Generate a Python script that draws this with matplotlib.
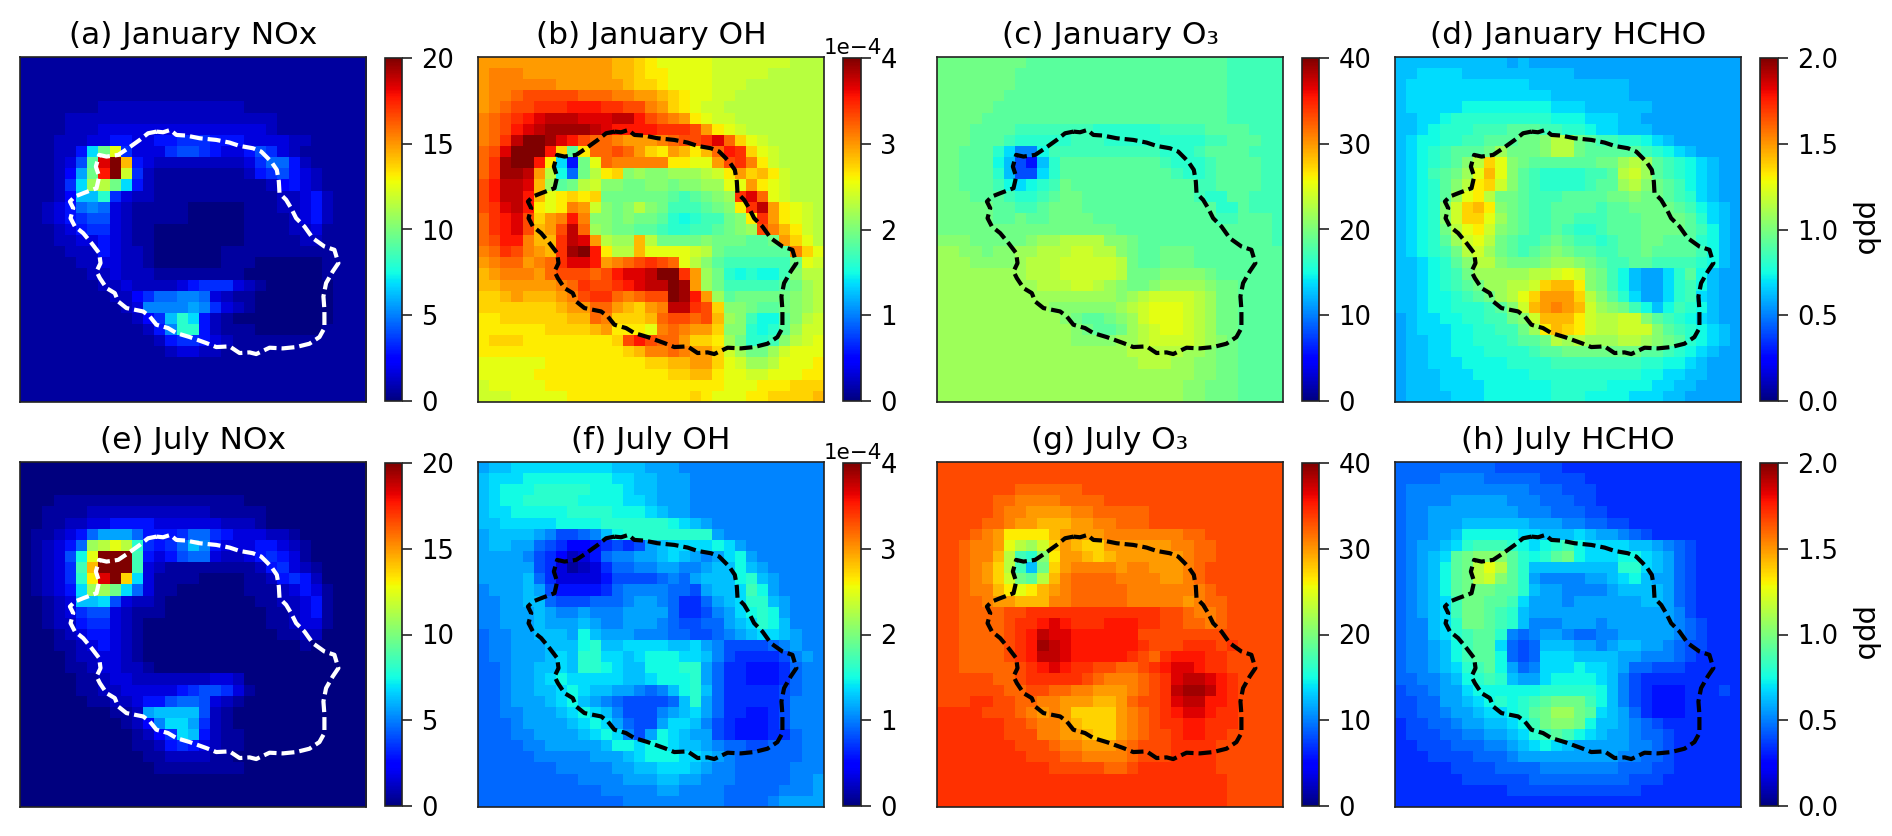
import matplotlib
matplotlib.use("Agg")
import matplotlib.pyplot as plt
from matplotlib.ticker import ScalarFormatter
import numpy as np

# Cell values, one character per cell, as a level 0..35
# of the colour bar (0-9 then a-z). Spaces only group the columns.
jan_nox = """
11111 11111 11111 11111 11111 11111 1
11111 11111 11111 11111 11111 11111 1
11111 11111 11111 11111 11111 11111 1
11111 11111 11111 11111 11111 11111 1
11111 11222 22222 22222 11111 11111 1
11112 22222 22222 22222 22211 11111 1
11112 22333 33333 33333 33211 11111 1
11122 23355 33556 66555 33332 21111 1
11122 5chm6 33367 76533 57632 11111 1
11123 7gwzp 53222 22222 36885 21111 1
11124 ahvzl 62111 11111 25675 32111 1
11126 cjkhc 52111 11111 11245 32111 1
11124 bbe63 22111 11111 11122 35211 1
11235 89832 11111 00000 11122 35211 1
11235 67732 11111 00000 11112 35211 1
11123 56632 11000 00000 11112 23111 1
11122 33532 11000 00000 11111 22111 1
11112 22532 21000 00011 11111 11111 1
11111 22332 21000 00011 10000 00111 1
11111 12232 22111 11111 00000 00111 1
11111 11223 22223 56663 21000 00011 1
11111 11122 46889 98321 10000 00011 1
11111 11112 39999 a9632 10000 00011 1
11111 11111 246be c5210 00000 00011 1
11111 11111 1259e e5211 10000 00111 1
11111 11111 11256 65321 11111 11111 1
11111 11111 11123 32211 11111 11111 1
11111 11111 11111 11111 11111 11111 1
11111 11111 11111 11111 11111 11111 1
11111 11111 11111 11111 11111 11111 1
11111 11111 11111 11111 11111 11111 1
"""

jan_oh = """
qqqqq qqqqq qqppo nmmmm mllll lllkk k
qrrrq qqqqq qqppo nnmmm mllll lkkkk k
qrrrr rrqqq qqqpo onmmm mlllk kkkkk k
qrrst tttts ssrrq qponm mllkk kkkkk k
qrstt uuuvv vuutt rqonm llkkk kkkkk k
rstuv wxxxw wwxxv tsrqn mllkk kkkkk k
rstvw xyyyy xwvvv vuuut qnmlk kkkkk k
rsuxz zywvt ssrqq qrstt uwsom lkkkk k
stwzz zvogn sstsq onqpn psvuo mlkkk k
suyzz vnc5h msrrr rrnnm mqtur nlkkk k
suyyx qkd8h knoij iijjj klnqo pnlkk k
tvxxw pjghk liihh iihii jjmmq nmlkk k
tvxxv pmnon ohhhh hhgfg hijuw smlkk k
tuwxv nmnrq lihik ihfff ghinu xqnml k
suvwt oqrvr iihih hgede ffhin uqnml k
suvwt pqtxs jihhg gfeef fghij trpnl k
stvvr ppuxw qkjjp khhhh ihhhg ghqom k
rsutr qpuyz vnkkp mmmml khggg gggro m
qrssq rsuww vqrst utsmk igfff fffhm l
pqrrr qsttt stvww xzzuq jhede ddfik k
ppqqq qqrsu ttuvw xxzyq jhfff ffghj k
oopqp ppqrt uusrs ttzyv qjghh hhhij k
ooooo oopqq ssqpo qrxxu toiih gghij k
nnooo ooopp srooo pstts tpjif ddgik l
nnnnn noooo pqnnn mrsrq qoiie degjl l
nooon nnnnn nnotv tssqo onjhe efikl m
nnnnn nnnnn nnnop rrsrq qoljh hjlmm m
mmmmm mnnnn nnnnn ooppq qomlj jkmmm n
mmmmm nnnnn nnnnn nnoop pnmml lmmmn n
lmmmm mnnnn nnnnn nnnnn nnmmm nnnoo o
lllmm mmmnn nnnnn nnnno nmmmn noooo p
"""

jan_o3 = """
hhhhh hhhgg ggggg ggggg ggggg gffff f
hhhhh hhggg ggggg ggggg ggggg gffff f
hhhhh hhggg ggggg ggggg ggggg gffff f
hhhhh hgggg ggggg ggggg ggggg gffff f
hhhhh ggggg ggggg ggggg ggggg gffff f
hhhhg ggggg ggggg ggggg ggggg gffff f
hhhgg ggfff ffffe eeeee ffffg gggff f
hhhgg gfeee eefff eeeee eeeef fgggf f
hhggg ec99d fffff fffff eeefg gggff f
hhggg db75b egggg ggggg feeef ggggf f
hhggg eb77c egggg ggggg gfeef ggggf f
hhggg fdcde fhggg ggggg gggff ggggf f
hhhgg gfeef ghhgg ggggg gggfe eggff f
hhhhh ggffg hhhgg ggggg ggggg eegff f
hhhhh gghgg hhhhg ggggg ggggg ffggg f
hhhhh hhhhh hhhhh hgggg ggggg ggggg f
iiihh hhhij jkkkk iihgg ggggg ggggg f
jjiih iijjk kkllk kihgg hhhgg ggggg g
jjjii iijkk kllll lkhgg hhhgg ggggg g
jjjjj jjjkk kllll lkhhh iiiih ggggg g
jjjjj jjjjk kkllk jihhi jjjji hhggg g
jjjjj jjjjj jjjjj jijkl lllkj hhggg g
jjjjj jjjjj iiiii ijklm mmlkj hhggg g
jjjjj jjjjj jihgg hijlm mmlkj hhggg g
jjjjj jjjjj jjihg ghjkl mmlkj hhggg g
jjjjj jjjjj jjiii ijjkl lllkj ihggg g
jjjjj jjjjj jjjjj jjkkk kkjji hhggg g
jjjjj jjjjj jjjjj jjjkk kjjii hhggg g
jjjjj jjjjj jjjjj jjjjj jjjii hhggg g
jjjjj jjjjj jjjjj jjjjj jjiih hhggg g
jjjjj jjjjj jjjjj jjjjj jjiih hhggg g
"""

jan_hcho = """
bbbbb bbbbb abaaa aaaaa aaaaa aaaaa a
bbccc cbbbb bbbbb baaaa aaaaa aaaaa a
bcccc ccccc ccbbb bbbbb baaaa aaaaa a
bcccc ccccc ccccb bbbbb baaaa aaaaa a
bcccc cdddd ddddc ccbbb bbbaa aaaaa a
bbccd eeeee eeeed ddccc bbaaa aaaaa a
bbcde eefff gggff eedcc bbbaa aaaaa a
bcdde effgg ghhik khgff eedcb aaaaa a
bcdef ggghj hhhik khggg ggfed cbaaa a
bcdef gikom ihggg ggghh jkjgf edcba a
bcdfg hjmpm igfee eeffg kljgf edcba a
bcdeg iknol igfee eefgg jkihg fdcba a
bcdeg jmnkh hgfff ggggh hihhg fecba a
bcdei lopni hgffg gggfg ghhhh gfdcb a
bcdei loomj hgffg gfffg gghhh hgecb a
bcdeh kmnli hgffg feefg gghhh hgfdb a
bcdeg jlmkh gffgh gffef gghhg ggedb a
bcdef hkljh gfghi hggff gghgg ggfdb a
bbcde gikki hhhij jihgf fggff ffedb a
bbcde fhjjj jjkkl mlihf dbaac egdba a
bbcde fghjj kklop pnihf dbaac efdba a
bbcdd efghj kmoqq qokig ecaac efcba a
bbcdd eeefg ilpqr qplji hfdbd fedba a
abccd deeff hilpp pnlkk lligf edcba a
abccc ddeef fhjnp onlkk lllig fedcb a
abbcc ddeee fgghk jkjjj kkjih gedcb a
abbcc dddee eefgg hhhhh hhggf edcba a
abbcc cdddd eeeef fffff ffeed dcbaa a
abbbc ccddd ddeee eeeee eeddc cbbaa a
abbbc cccdd dddde eeeed dddcc bbaaa a
abbbb cccdd dddde eeddd dcccb baaaa a
"""

jul_nox = """
00000 00000 00000 00000 00000 00000 0
00000 00000 00000 00000 00000 00000 0
00000 00000 00000 00000 00000 00000 0
00011 11111 11111 11111 00000 00000 0
00111 12222 22222 22111 11000 00000 0
00112 23355 55333 33322 21000 00000 0
01123 58aaa 85556 88653 33221 00000 0
01235 8jkmk e6568 b9533 35532 10000 0
01237 dmzzz f5357 88322 35653 10000 0
01236 fpzzz f3211 11111 12563 21000 0
01236 enwzo c3111 10000 11256 52000 0
01235 cjjhc 83110 00000 11123 53100 0
00123 bbc73 22100 00000 01122 35100 0
00123 67732 11100 00000 00112 35100 0
00122 56632 10000 00000 00112 33100 0
00012 35532 10000 00000 00011 22000 0
00011 23532 10000 00000 00000 10000 0
00001 22332 10000 00000 00000 00000 0
00001 12332 21000 00000 00000 00000 0
00000 11233 22222 22332 00000 00000 0
00000 11223 33335 67763 10000 00000 0
00000 01122 35578 87321 00000 00000 0
00000 00011 2abbb b7210 00000 00000 0
00000 00001 249cc a6210 00000 00000 0
00000 00000 1246c b5211 00000 00000 0
00000 00000 11256 53211 00000 00000 0
00000 00000 01122 22110 00000 00000 0
00000 00000 00111 11111 00000 00000 0
00000 00000 00000 00000 00000 00000 0
00000 00000 00000 00000 00000 00000 0
00000 00000 00000 00000 00000 00000 0
"""

jul_oh = """
abbcc ccccc ccbbb aaa99 99999 99999 9
bcccd ddddd ddccb baaa9 99999 99999 9
bcddd eeeee dddcb baaa9 99999 99999 9
bcdde eeeed dddcc baaa9 99999 99999 9
bccdd dddee eeddd cbaa9 99999 99999 9
bbccc ccddd deeee eedcb a9999 99999 9
abbbb a9778 9bdee eeeee ea999 99999 9
abbaa 87644 56767 abccc cdca9 99999 9
aaaa9 76423 58 99a abcba 9acda 99999 9
aaaaa 76312 36889 9aa99 abbdb a9999 9
aaaab 86333 35777 7898a bbbde ba999 9
9aaab a7555 56899 99887 abbcf da999 9
99aab b8777 88 89a a9866 8abce eba99 9
99aaa ba99a 999aa aa866 79acd eda99 9
99aaa baaab a99aa a9877 88abc edb99 9
899aa bbbad baaa9 99887 789ab ccba9 9
899aa abbbd ebbcc ccbbc a9777 789a9 9
899aa abcbe eccbc dddcc b9766 6679a 9
889aa bbcbe edcbb dddee a8665 55689 9
889aa bcdcc cccbb cddde a8665 55689 9
889aa bbcdc bbaa9 89bde b8666 66789 9
889aa abcdb a9877 778be a8666 66799 9
8899a aabcd cb977 79abc a8665 56799 9
8889a aaabc dca87 7accb 97655 56799 9
88899 aaaab cdc97 adcba a7655 56689 9
88889 9aaaa abddc ddcbb a9887 78889 9
88888 99999 aaabc dddcc ba988 88889 9
88888 88999 99aab bcccb a9988 88899 9
88888 88889 999aa abbaa 99988 88899 a
88888 88888 89999 9aa99 99888 88999 a
88888 88888 88899 99999 99888 89aaa a
"""

jul_o3 = """
ttttt ttttt ttttt ttttt ttttt ttttt t
ttttt ttttt ttttt ttttt ttttt ttttt t
ttttt ttsss ssstt ttttt ttttt ttttt t
ttttt ssrrr rssss ttttt ttttt ttttt t
ttttt srrqq qqrrs sssst ttttt ttttt t
tttts srqqp ppqqr rssst ttttt ttttt t
tttsr qnnnn pqqqq rrrrr rrsst ttttt t
ttsrr qmkjl oqpoo qqqqq qrrss ttttt t
ttsrr pkfei nqqpo pqqqq qqrss ttttt t
ttsrq okfbh oqrrr rqrrq qqrst ttttt t
ttsrq olhgk prsss srrrr qqrst ttttt t
ttsrr pnmnp qrsss ssrrr rrrrs ttttt t
ttssr qqppp rrsss ssrrr rrqrs stttt t
ttsss sttuu uuuuu uuuuu ttsrr stttt t
ttsss stuuv wvuuu vvvuu ttssr stttt t
ttsss stuvx wwvvv vvvtt ttttt ttttt t
ttsss stuvy xwvvv vvvut ttuuu tuttt t
ttsss stuvx xwvvv vvuts uvvvu utttt t
ttsss sstuv wvuut tsstu vwwvu utttt t
ttttt sstuu uuuts rrrst uwxxw vuttt t
ttttt tsstt ssrrq qqrst uxyyx vuttt t
tttuu ttssr rqqqp pqstt uwxxv vuttt t
uuuut ttsrq rqooo oqrst uvwwv uuttt t
uuuuu uttsr rqpoo oqrst uuvvu uuttt t
uuuuu utttr rqqpo oqrst tuvvu utttt t
uuuuu uuttt srrqq qrstt tuuuu ttttt t
uuuuu uuutt tssrr rrstt tuuuu ttttt t
uuuuu uuuuu ttttt sstuu uuuuu ttttt t
uuuuu uuuuu uuuuu uuuuu uuuuu utttt t
uuuuu uuuuu uuuuu uuuuu uuuuu utttt t
uuuuu uuuuu uuuuu uuuuu uuuuu utttt t
"""

jul_hcho = """
88888 88887 77777 66666 66666 66666 6
88889 99988 88877 77666 66666 66666 6
89999 99999 99888 77766 66666 66666 6
89999 aaaaa 99988 87766 66666 66666 6
899aa aaaaa a9998 88776 66666 66666 6
899aa abbbb bbaaa 99887 76666 66666 6
899aa bdddd dccbb bcbaa 98766 66666 6
89aab cefff edcde fdccc cbba9 87666 6
89abc ghiii gedeg hdccc ddcba 87666 6
89abd ghkmk gebbb bbbbb eecba 87666 6
89abd ghkli gea99 99aab cdbaa 87666 6
89abd ghhhg gebaa 9999a bbbba 87666 6
89abc fhhgg fcaaa 9aaaa aabba 87666 6
89abc fhhgf ebaaa aaaaa aaaaa 97666 6
899bc ehhgf eb999 aaa9a aaaaa 98766 6
899bc efgge 989aa 98899 aaaaa 98766 6
899ab dfggc 878bb baa9a bbaa9 87766 6
899ab dfggd 878cc cbbbb aa999 87666 6
899ab cefgd a89cc cdccb a8877 76666 6
8899a bdefe baacd dddcb 97666 66666 6
7889a acddd dddee eeedb 97655 56667 6
7788a abcde defgh hhfdb 97655 56666 6
77889 aabcc deghj jhgcb a8655 56666 6
67788 9aabb cdfhi ihdbb a9876 66666 6
67778 899aa bcefg fdcba a9887 66666 6
66777 88899 abcdc baaaa a9987 66666 6
66677 77888 9aaaa aaaaa 99887 66666 6
66666 77778 88899 99999 88877 66666 6
66666 67777 77888 88888 87776 66666 6
66666 66666 77777 77777 77666 66666 6
66666 66666 66666 66666 66666 66666 6
"""

# Coastline, in map units (the map is 1040 by 1036 units, y downwards)
coast_x = [410, 430, 452, 470, 500, 540, 590, 630, 660, 700, 725, 755, 772, 778, 780, 800, 815, 830, 855, 880,
           915, 945, 957, 940, 920, 912, 915, 915, 900, 870, 830, 790, 750, 710, 690, 660, 630, 590, 560, 510,
           470, 445, 410, 390, 370, 320, 295, 285, 260, 240, 230, 242, 238, 215, 190, 165, 152, 160, 150, 165,
           190, 230, 238, 228, 238, 260, 295, 325, 360, 385, 410]
coast_y = [224, 226, 219, 234, 236, 244, 249, 257, 267, 274, 284, 314, 339, 374, 409, 429, 454, 484, 509, 544,
           569, 579, 619, 644, 679, 719, 759, 814, 841, 861, 871, 875, 873, 892, 887, 889, 869, 871, 859, 841,
           829, 814, 804, 779, 764, 754, 734, 709, 694, 664, 644, 619, 589, 559, 529, 509, 484, 454, 434, 419,
           409, 394, 359, 329, 294, 299, 294, 274, 249, 229, 224]

titles = ["(a) January NOx", "(b) January OH", "(c) January O\u2083", "(d) January HCHO",
          "(e) July NOx", "(f) July OH", "(g) July O\u2083", "(h) July HCHO"]
grids = [jan_nox, jan_oh, jan_o3, jan_hcho, jul_nox, jul_oh, jul_o3, jul_hcho]
scale_max = [20, 4e-4, 40, 2.0, 20, 4e-4, 40, 2.0]
bar_ticks = [[0, 5, 10, 15, 20], [0, 1e-4, 2e-4, 3e-4, 4e-4], [0, 10, 20, 30, 40], [0, 0.5, 1.0, 1.5, 2.0]] * 2
bar_labels = [None, None, None, "ppb"] * 2
coast_colors = ["white", "black", "black", "black"] * 2


def decode(text, top):
    rows = []
    for line in text.strip().splitlines():
        cells = line.replace(" ", "")
        cells = cells.ljust(31, cells[-1])[:31]
        rows.append([int(c, 36) / 35 * top for c in cells])
    return np.array(rows)


W, H = 1892, 836
fig = plt.figure(figsize=(W / 100, H / 100), dpi=100)
plt.rcParams["font.family"] = "DejaVu Sans"


def box(l, r, t, b):
    return [l / W, 1 - b / H, (r - l) / W, (b - t) / H]


ax_lr = [(20, 366), (478, 824), (937, 1283), (1395, 1741)]
bar_lr = [(385, 402), (843, 861), (1302, 1319), (1760, 1778)]
ax_tb = [(57, 402), (462, 807)]
bar_tb = [(58, 401), (463, 806)]

for i in range(8):
    c = i % 4
    r = i // 4
    ax = fig.add_axes(box(*ax_lr[c], *ax_tb[r]))
    im = ax.imshow(decode(grids[i], scale_max[i]), cmap="jet", vmin=0, vmax=scale_max[i],
                   extent=(0, 1040, 1036, 0), aspect="auto", interpolation="nearest")
    ax.plot(coast_x, coast_y, color=coast_colors[i], lw=3.0, ls=(0, (3.1, 1.2)))
    ax.set_xticks([])
    ax.set_yticks([])
    ax.set_title(titles[i], fontsize=22.5, pad=9.5)
    for s in ax.spines.values():
        s.set_linewidth(1.2)
        s.set_color("#222222")
    cax = fig.add_axes(box(*bar_lr[c], *bar_tb[r]))
    cb = fig.colorbar(im, cax=cax, ticks=bar_ticks[i])
    if c == 1:
        fmt = ScalarFormatter()
        fmt.set_powerlimits((0, 0))
        cb.ax.yaxis.set_major_formatter(fmt)
    cb.ax.tick_params(labelsize=18.5, length=7, width=1.2, color="#222222", pad=7)
    cb.outline.set_linewidth(1.2)
    cb.outline.set_edgecolor("#222222")
    if c == 1:
        ot = cb.ax.yaxis.get_offset_text()
        ot.set_fontsize(15.5)
        ot.set_horizontalalignment("center")
        ot.set_x(0.55)
    if bar_labels[i]:
        cb.set_label(bar_labels[i], fontsize=21, labelpad=8, rotation=270, va="bottom")

fig.savefig("out.png", dpi=100)
